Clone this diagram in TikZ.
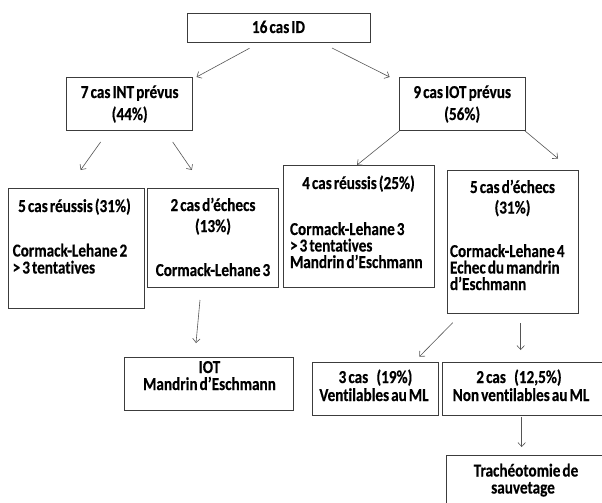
\documentclass[tikz,border=0pt]{standalone}
\usepackage{fontspec}
\newfontfamily\boxfont{Carlito Bold}[FakeStretch=0.835, FakeBold=0.4, WordSpace=0.6, Ligatures=NoCommon]
\usetikzlibrary{arrows.meta}
\definecolor{boxgray}{RGB}{60,60,60}
\definecolor{arrgray}{RGB}{85,85,85}
\begin{document}
\begin{tikzpicture}[x=1pt,y=-1pt,
  box/.style={draw=boxgray, line width=0.8pt, rectangle, inner sep=0pt, outer sep=0pt},
  txt/.style={inner sep=0pt, outer sep=0pt, text=black, text height=11.5pt, text depth=3.5pt, font=\boxfont\fontsize{18.2}{18.2}\selectfont},
  arr/.style={draw=arrgray, line width=0.6pt, -{Straight Barb[length=4pt,width=7.5pt]}}]
\useasboundingbox (0,0) rectangle (602,503);
\fill[white] (0,0) rectangle (602,503);
\clip (0,0) rectangle (602,503);
% boxes
\node[box, minimum width=183pt, minimum height=29.5pt] (A) at (278.5,28) {};
\node[box, minimum width=126pt, minimum height=53pt] (B) at (129.75,103.5) {};
\node[box, minimum width=126pt, minimum height=53pt] (C) at (462.25,103.5) {};
\node[box, minimum width=136pt, minimum height=120pt] (D) at (76,248) {};
\node[box, minimum width=131pt, minimum height=99pt] (E) at (212.5,237.5) {};
\node[box, minimum width=151pt, minimum height=122pt] (F) at (358.5,226) {};
\node[box, minimum width=131pt, minimum height=143pt] (G) at (512.5,241.5) {};
\node[box, minimum width=169pt, minimum height=53pt] (H) at (208.5,383.5) {};
\node[box, minimum width=126pt, minimum height=53pt] (I) at (375,388.5) {};
\node[box, minimum width=168pt, minimum height=53pt] (J) at (526,388.5) {};
\node[box, minimum width=180pt, minimum height=70pt] (K) at (536,490) {};
% texts
\node[txt, anchor=base] (tA) at (278.5,33) {16 cas ID};
\node[txt, anchor=base] (tB1) at (129.7,98) {7 cas INT prévus};
\node[txt, anchor=base] (tB2) at (129.7,120) {(44\%)};
\node[txt, anchor=base] (tC1) at (462.2,98) {9 cas IOT prévus};
\node[txt, anchor=base] (tC2) at (462.2,120) {(56\%)};
\node[txt, anchor=base] (tD1) at (74.5,212) {5 cas réussis (31\%)};
\node[txt, anchor=base west] (tD2) at (12.7,256.5) {Cormack-Lehane 2};
\node[txt, anchor=base west] (tD3) at (12.7,273.5) {> 3 tentat\kern0pt ives};
\node[txt, anchor=base] (tE1) at (213,211) {2 cas d’échecs};
\node[txt, anchor=base] (tE2) at (213,232) {(13\%)};
\node[txt, anchor=base] (tE3) at (213,276) {Cormack-Lehane 3};
\node[txt, anchor=base] (tF1) at (358.5,189) {4 cas réussis (25\%)};
\node[txt, anchor=base west] (tF2) at (290,235) {Cormack-Lehane 3};
\node[txt, anchor=base west] (tF3) at (290,251.5) {> 3 tentat\kern0pt ives};
\node[txt, anchor=base west] (tF4) at (290,268) {Mandrin d’Eschmann};
\node[txt, anchor=base] (tG1) at (512.5,193) {5 cas d’échecs};
\node[txt, anchor=base] (tG2) at (512.5,213.5) {(31\%)};
\node[txt, anchor=base west] (tG3) at (450,257) {Cormack-Lehane 4};
\node[txt, anchor=base west] (tG4) at (450,273.5) {Echec du mandrin};
\node[txt, anchor=base west] (tG5) at (450,290) {d’Eschmann};
\node[txt, anchor=base] (tH1) at (209.5,373) {IOT};
\node[txt, anchor=base] (tH2) at (209.5,390) {Mandrin d’Eschmann};
\node[txt, anchor=base] (tI1) at (375.5,383) {3 cas\hspace{0.45em}(19\%)};
\node[txt, anchor=base] (tI2) at (374,401) {Ventilables au ML};
\node[txt, anchor=base] (tJ1) at (519,383) {2 cas\hspace{0.45em}(12,5\%)};
\node[txt, anchor=base] (tJ2) at (521,401) {Non ventilables au ML};
\node[txt, anchor=base] (tK1) at (526,476.5) {Trachéotomie de};
\node[txt, anchor=base] (tK2) at (523,493.5) {sauvetage};
% arrows
\draw[arr] ([xshift=-29pt,yshift=-5.5pt]A.south) -- ([xshift=66.75pt]B.north);
\draw[arr] ([xshift=53.5pt,yshift=-5.25pt]A.south) -- ([xshift=-72.65pt]C.north);
\draw[arr] ([xshift=-29.15pt,yshift=-12pt]B.south) -- ([xshift=4.6pt,yshift=18pt]D.north);
\draw[arr] ([xshift=42.95pt,yshift=-12pt]B.south) -- ([xshift=-20.6pt,yshift=18pt]E.north);
\draw[arr] ([xshift=-63.05pt,yshift=-1pt]C.south) -- ([xshift=-1.5pt]F.north);
\draw[arr] ([xshift=62.85pt,yshift=-1pt]C.south) -- ([xshift=45.5pt,yshift=11.5pt]G.north);
\draw[arr] ([xshift=-12.5pt,yshift=-13pt]E.south) -- ([xshift=-12.5pt,yshift=14pt]H.north);
\draw[arr] ([xshift=-59.8pt,yshift=-9.7pt]G.south) -- ([xshift=44.3pt,yshift=5.3pt]I.north);
\draw[arr] ([xshift=8.2pt,yshift=-10pt]G.south) -- ([xshift=-5.3pt,yshift=12pt]J.north);
\draw[arr] ([xshift=-4.3pt,yshift=-2pt]J.south) -- ([xshift=-14.3pt,yshift=8pt]K.north);
\end{tikzpicture}
\end{document}
